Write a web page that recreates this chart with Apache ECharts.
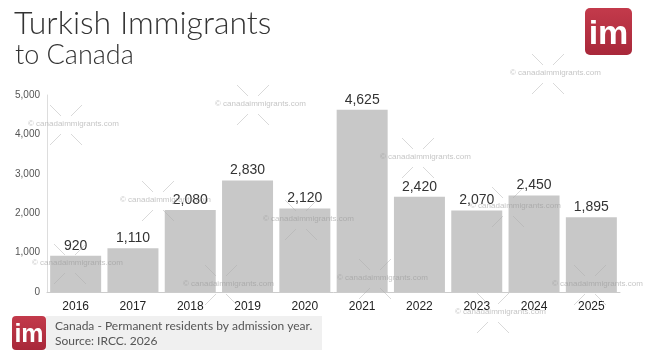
<!DOCTYPE html>
<html><head><meta charset="utf-8">
<script src="https://cdn.jsdelivr.net/npm/echarts@6/dist/echarts.min.js"></script>
<style>html,body{margin:0;padding:0;background:#fff}#c{width:645px;height:363px}</style>
</head><body><div id="c"></div>
<script>
const categories = ['2016','2017','2018','2019','2020','2021','2022','2023','2024','2025'];
const values = [920, 1110, 2080, 2830, 2120, 4625, 2420, 2070, 2450, 1895];
const yTicks = [0, 1000, 2000, 3000, 4000, 5000];

const wmCenters = [[253,105],[548,74],[66,125],[158,201],[418,158],[70,264],[221,285],[301,220],[508,207],[375,279],[590,285],[493,313]];
const graphics = [];
wmCenters.forEach(([cx,cy])=>{
  graphics.push({type:'text', left:cx-38, top:cy-5, z:100, silent:true,
    style:{text:'© canadaimmigrants.com', fill:'rgba(150,150,150,0.55)', font:'8px "Liberation Sans", Arial, sans-serif'}});
  [[-1,-1],[1,-1],[-1,1],[1,1]].forEach(([sx,sy])=>{
    graphics.push({type:'line', z:100, silent:true,
      shape:{x1:cx+sx*5, y1:cy+sy*9, x2:cx+sx*16, y2:cy+sy*20},
      style:{stroke:'rgba(170,170,170,0.45)', lineWidth:1}});
  });
});
// Title
graphics.push({type:'text', left:14, top:8, style:{text:'Turkish Immigrants', fill:'#333', font:'300 32px Lato, "Open Sans", sans-serif'}});
graphics.push({type:'text', left:15, top:42, style:{text:'to Canada', fill:'#333', font:'300 27px Lato, "Open Sans", sans-serif'}});
// Top logo
graphics.push({type:'rect', shape:{x:585,y:8,width:47,height:47,r:5}, style:{fill:{type:'linear',x:0,y:0,x2:0,y2:1,colorStops:[{offset:0,color:'#c33a4b'},{offset:1,color:'#a8283a'}]}}});
graphics.push({type:'text', x:608.5, y:35, style:{text:'im', fill:'#fff', font:'bold 34px "Liberation Sans", Arial, sans-serif', align:'center', verticalAlign:'middle'}});
// Footer
graphics.push({type:'rect', shape:{x:46,y:316,width:276,height:34}, style:{fill:'#f0f0f0'}});
graphics.push({type:'rect', shape:{x:12,y:316,width:34,height:34,r:4}, style:{fill:{type:'linear',x:0,y:0,x2:0,y2:1,colorStops:[{offset:0,color:'#c33a4b'},{offset:1,color:'#a8283a'}]}}});
graphics.push({type:'text', x:29, y:335, style:{text:'im', fill:'#fff', font:'bold 25px "Liberation Sans", Arial, sans-serif', align:'center', verticalAlign:'middle'}});
graphics.push({type:'text', left:55, top:320, style:{text:'Canada - Permanent residents by admission year.', fill:'#555', font:'12px Lato, "Open Sans", sans-serif'}});
graphics.push({type:'text', left:55, top:335, style:{text:'Source: IRCC. 2026', fill:'#555', font:'12px Lato, "Open Sans", sans-serif'}});

const chart = echarts.init(document.getElementById('c'), null, {renderer:'canvas'});
chart.setOption({
  animation:false,
  grid:{left:47, right:25, top:95, bottom:71, containLabel:false},
  xAxis:{type:'category', data:categories,
    axisLine:{lineStyle:{color:'#ccc'}}, axisTick:{show:false},
    axisLabel:{color:'#222', fontSize:12, margin:9, fontFamily:'"Liberation Sans", Arial, sans-serif'}},
  yAxis:{type:'value', min:yTicks[0], max:yTicks[yTicks.length-1], interval:1000,
    axisLine:{show:true, lineStyle:{color:'#ddd'}}, axisTick:{show:false}, splitLine:{show:false},
    axisLabel:{color:'#555', fontSize:10, margin:7, fontFamily:'"Liberation Sans", Arial, sans-serif',
      formatter:v=>v.toLocaleString('en-US')}},
  series:[{type:'bar', data:values, barCategoryGap:'11%', itemStyle:{color:'#c8c8c8'},
    label:{show:true, position:'top', distance:3, color:'#333', fontSize:14, fontFamily:'"Liberation Sans", Arial, sans-serif',
      formatter:p=>p.value.toLocaleString('en-US')}}],
  graphic:graphics
});
</script></body></html>
